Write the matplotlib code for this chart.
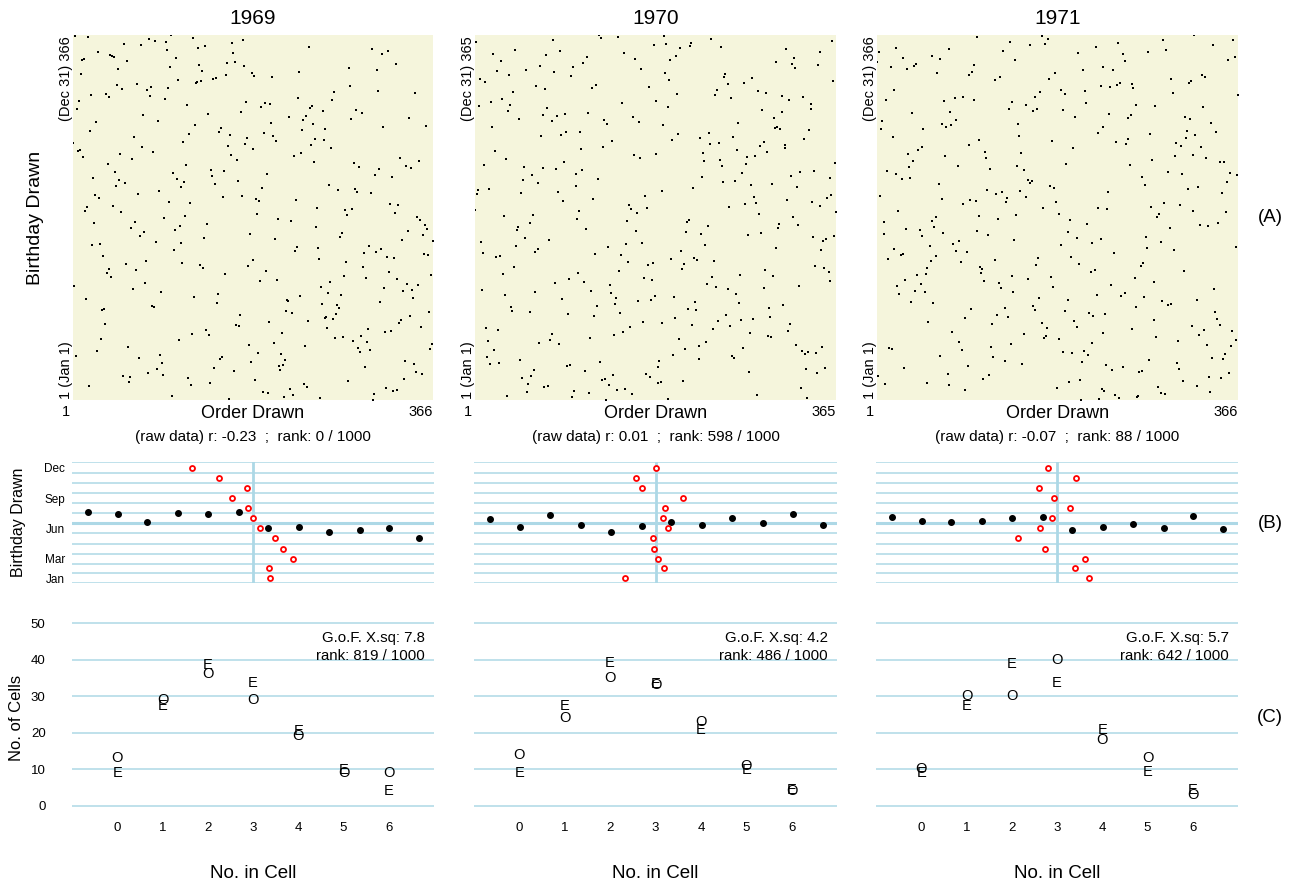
"""Draft lottery 1969-1971: raw scatter, monthly / group means, cell-count goodness of fit."""

import matplotlib
import matplotlib.pyplot as plt
import numpy as np

matplotlib.use("Agg")
plt.rcParams["font.family"] = ["Liberation Sans", "DejaVu Sans"]

W, H = 1296, 885

YEARS = ["1969", "1970", "1971"]
N_DAYS = [366, 365, 366]
R_TEXT = ["-0.23", "0.01", "-0.07"]
R_RANK = [0, 598, 88]
GOF = ["7.8", "4.2", "5.7"]
GOF_RANK = [819, 486, 642]

# 1969: number drawn for each birthday, one list per month (Jan .. Dec)
draft_1969 = [
    [305, 159, 251, 215, 101, 224, 306, 199, 194, 325, 329, 221, 318, 238, 17, 121,
     235, 140, 58, 280, 186, 337, 118, 59, 52, 92, 355, 77, 349, 164, 211],
    [86, 144, 297, 210, 214, 347, 91, 181, 338, 216, 150, 68, 152, 4, 89, 212, 189,
     292, 25, 302, 363, 290, 57, 236, 179, 365, 205, 299, 285],
    [108, 29, 267, 275, 293, 139, 122, 213, 317, 323, 136, 300, 259, 354, 169, 166,
     33, 332, 200, 239, 334, 265, 256, 258, 343, 170, 268, 223, 362, 217, 30],
    [32, 271, 83, 81, 269, 253, 147, 312, 219, 218, 14, 346, 124, 231, 273, 148, 260,
     90, 336, 345, 62, 316, 252, 2, 351, 340, 74, 262, 191, 208],
    [330, 298, 40, 276, 364, 155, 35, 321, 197, 65, 37, 133, 295, 178, 130, 55, 112,
     278, 75, 183, 250, 326, 319, 31, 361, 357, 296, 308, 226, 103, 313],
    [249, 228, 301, 20, 28, 110, 85, 366, 335, 206, 134, 272, 69, 356, 180, 274, 73,
     341, 104, 360, 60, 247, 109, 358, 137, 22, 64, 222, 353, 209],
    [93, 350, 115, 279, 188, 327, 50, 13, 277, 284, 248, 15, 42, 331, 322, 120, 98,
     190, 227, 187, 27, 153, 172, 23, 67, 303, 289, 88, 270, 287, 193],
    [111, 45, 261, 145, 54, 114, 168, 48, 106, 21, 324, 142, 307, 198, 102, 44, 154,
     141, 311, 344, 291, 339, 116, 36, 286, 245, 352, 167, 61, 333, 11],
    [225, 161, 49, 232, 82, 6, 8, 184, 263, 71, 158, 242, 175, 1, 113, 207, 255, 246,
     177, 63, 204, 160, 119, 195, 149, 18, 233, 257, 151, 315],
    [359, 125, 244, 202, 24, 87, 234, 283, 342, 220, 237, 72, 138, 294, 171, 254, 288,
     5, 241, 192, 243, 117, 201, 196, 176, 7, 264, 94, 229, 38, 79],
    [19, 34, 348, 266, 310, 76, 51, 97, 80, 282, 46, 66, 126, 127, 131, 107, 143, 146,
     203, 185, 156, 9, 182, 230, 132, 309, 47, 281, 99, 174],
    [129, 328, 157, 165, 56, 10, 12, 105, 43, 41, 39, 314, 163, 26, 320, 96, 304, 128,
     240, 135, 70, 53, 162, 95, 84, 173, 78, 123, 16, 3, 100],
]

# 1970 / 1971: (order drawn, birthday day-of-year)
pts_1970 = [
    (2, 358), (80, 360), (126, 365), (128, 362), (145, 363), (181, 355), (41, 350), (87, 349),
    (19, 346), (73, 345), (151, 347), (114, 343), (27, 339), (110, 337), (162, 341), (67, 334),
    (100, 333), (23, 329), (52, 330), (81, 328), (168, 331), (35, 325), (98, 324), (6, 321),
    (11, 318), (63, 314), (72, 311), (123, 315), (119, 312), (176, 313), (39, 308), (28, 301),
    (17, 298), (5, 294), (36, 295), (74, 292), (34, 289), (149, 297), (70, 285), (84, 284),
    (92, 286), (115, 287), (45, 281), (79, 279), (131, 280), (134, 276), (160, 283), (166, 278),
    (18, 273), (93, 268), (88, 265), (68, 264), (107, 268), (139, 259), (130, 253), (21, 249),
    (108, 251), (183, 246), (161, 245), (167, 242), (32, 241), (10, 235), (91, 238), (50, 233),
    (70, 232), (83, 231), (109, 230), (103, 226), (58, 225), (49, 220), (65, 217), (125, 221),
    (4, 210), (15, 211), (3, 206), (47, 207), (85, 208), (103, 214), (90, 199), (120, 201),
    (172, 204), (1, 190), (30, 184), (59, 185), (106, 189), (156, 195), (158, 191), (164, 187),
    (174, 192),
    (192, 364), (194, 356), (219, 357), (218, 354), (239, 361), (208, 352), (249, 353), (361, 359),
    (315, 351), (349, 348), (204, 344), (198, 340), (323, 342), (305, 338), (321, 336), (324, 332),
    (347, 335), (193, 327), (253, 326), (252, 323), (197, 320), (280, 322), (272, 317), (256, 316),
    (362, 319), (245, 310), (286, 309), (294, 307), (243, 305), (205, 306), (311, 304), (259, 302),
    (318, 300), (332, 303), (184, 299), (340, 296), (340, 291), (196, 293), (290, 290), (311, 288),
    (302, 282), (266, 277), (191, 275), (303, 272), (306, 273), (309, 271), (206, 266), (237, 267),
    (338, 270), (228, 262), (261, 263), (200, 260), (238, 256), (247, 257), (292, 258), (288, 254),
    (333, 261), (314, 255), (314, 252), (265, 250), (295, 248), (231, 247), (275, 243), (283, 244),
    (232, 239), (248, 240), (250, 234), (274, 236), (364, 237), (270, 227), (329, 228), (343, 229),
    (230, 223), (320, 224), (359, 222), (251, 218), (263, 219), (279, 215), (300, 216), (326, 213),
    (190, 209), (221, 212), (282, 203), (316, 200), (360, 205), (356, 202), (341, 198), (349, 194),
    (273, 196), (284, 197), (257, 193), (287, 186), (322, 183), (365, 188),
    (104, 182), (56, 178), (44, 174), (43, 171), (154, 180), (163, 170), (113, 172), (7, 159),
    (76, 161), (51, 163), (42, 155), (65, 152), (61, 149), (153, 157), (169, 158), (135, 154),
    (9, 148), (22, 144), (26, 145), (122, 147), (148, 146), (40, 134), (155, 139), (175, 136),
    (180, 138), (146, 130), (29, 127), (105, 128), (96, 122), (82, 118), (111, 119), (171, 123),
    (179, 121), (8, 111), (31, 106), (62, 109), (118, 110), (137, 116), (138, 108), (182, 105),
    (89, 102), (143, 103), (165, 100), (178, 101), (142, 97), (37, 94), (38, 90), (56, 89),
    (95, 87), (124, 95), (121, 85), (147, 88), (170, 79), (157, 74), (12, 73), (24, 71),
    (150, 69), (141, 66), (79, 67), (77, 61), (66, 58), (86, 57), (117, 63), (14, 60),
    (20, 51), (13, 44), (16, 37), (25, 38), (46, 41), (94, 35), (97, 36), (127, 39),
    (60, 31), (112, 30), (140, 26), (173, 27), (177, 24), (48, 23), (57, 25), (129, 21),
    (132, 22), (54, 17), (136, 16), (71, 14), (75, 15), (53, 9), (101, 10), (144, 11),
    (152, 12), (116, 8), (159, 7), (99, 4), (33, 5), (133, 1),
    (215, 179), (217, 181), (236, 175), (214, 169), (229, 167), (276, 166), (289, 168), (308, 177),
    (307, 173), (327, 176), (342, 164), (352, 160), (355, 162), (363, 165), (233, 156), (304, 153),
    (350, 151), (209, 150), (199, 142), (222, 143), (225, 141), (242, 140), (212, 137), (210, 132),
    (344, 135), (353, 133), (358, 129), (359, 120), (268, 126), (293, 131), (301, 125), (240, 124),
    (235, 117), (244, 114), (256, 112), (292, 113), (328, 115), (264, 107), (202, 104), (223, 99),
    (267, 98), (216, 92), (224, 91), (297, 93), (312, 96), (254, 86), (246, 80), (269, 81),
    (281, 82), (258, 75), (298, 84), (319, 77), (317, 70), (190, 78), (203, 83), (220, 76),
    (241, 72), (207, 62), (234, 59), (278, 68), (296, 65), (299, 64), (213, 52), (227, 55),
    (271, 53), (325, 56), (331, 50), (334, 47), (337, 49), (345, 48), (351, 54), (201, 46),
    (227, 42), (260, 45), (262, 43), (187, 40), (186, 34), (186, 18), (189, 19), (211, 20),
    (277, 29), (335, 32), (346, 28), (354, 33), (330, 13), (285, 6), (336, 3), (196, 2),
]

pts_1971 = [
    (102, 364), (135, 359), (168, 365), (174, 362), (171, 357), (156, 356), (20, 353), (74, 352),
    (128, 350), (3, 349), (57, 345), (27, 343), (65, 342), (141, 341), (1, 339), (40, 337),
    (38, 335), (15, 334), (31, 332), (99, 336), (62, 328), (94, 326), (97, 329), (125, 324),
    (120, 321), (181, 328), (175, 322), (18, 311), (187, 311), (166, 309), (161, 304), (10, 301),
    (69, 300), (80, 303), (88, 304), (99, 301), (138, 299), (152, 296), (134, 292), (163, 292),
    (159, 290), (36, 288), (75, 289), (6, 280), (5, 272), (81, 281), (67, 277), (71, 274),
    (76, 276), (48, 272), (144, 277), (17, 264), (145, 265), (104, 261), (94, 256), (178, 260),
    (46, 254), (42, 251), (32, 247), (70, 245), (110, 249), (111, 243), (147, 248), (37, 240),
    (33, 234), (83, 235), (115, 232), (143, 235), (150, 231), (11, 230), (20, 227), (26, 222),
    (34, 223), (154, 221), (158, 220), (156, 218), (64, 217), (176, 215), (180, 213), (112, 211),
    (146, 210), (121, 207), (127, 209), (4, 205), (152, 204), (132, 203), (131, 199), (67, 202),
    (95, 201), (101, 200), (88, 197), (182, 199), (22, 190), (169, 193), (185, 187), (61, 184),
    (104, 185), (142, 186),
    (322, 366), (290, 361), (361, 361), (245, 358), (222, 354), (341, 356), (204, 348), (275, 349),
    (293, 351), (250, 347), (356, 341), (363, 344), (252, 340), (209, 331), (230, 334), (240, 331),
    (330, 326), (333, 324), (298, 322), (316, 318), (318, 320), (227, 315), (237, 314), (244, 316),
    (247, 318), (259, 317), (260, 313), (191, 307), (211, 310), (300, 308), (366, 306), (212, 298),
    (263, 296), (282, 295), (331, 294), (189, 291), (201, 284), (236, 287), (255, 283), (258, 286),
    (312, 284), (317, 282), (339, 278), (229, 274), (224, 268), (277, 267), (314, 270), (344, 269),
    (323, 266), (313, 263), (255, 262), (253, 257), (243, 259), (303, 258), (308, 255), (329, 254),
    (199, 253), (302, 245), (321, 246), (334, 243), (348, 239), (352, 239), (279, 241), (192, 237),
    (257, 236), (295, 229), (309, 227), (358, 228), (365, 226), (269, 224), (272, 216), (355, 219),
    (315, 212), (326, 214), (350, 208), (235, 209), (224, 193), (234, 192), (278, 194), (291, 198),
    (307, 196), (320, 190), (354, 189), (286, 187), (284, 184),
    (8, 179), (57, 180), (59, 174), (30, 172), (44, 171), (47, 165), (68, 168), (102, 170),
    (113, 166), (123, 182), (8, 167), (18, 152), (12, 142), (25, 146), (27, 147), (55, 155),
    (78, 157), (84, 160), (81, 150), (92, 149), (140, 161), (187, 156), (61, 145), (56, 140),
    (86, 139), (120, 141), (164, 143), (162, 136), (52, 133), (105, 134), (107, 132), (106, 128),
    (41, 126), (51, 127), (29, 121), (21, 115), (45, 117), (39, 110), (50, 109), (23, 107),
    (109, 120), (124, 118), (126, 113), (137, 125), (154, 122), (177, 124), (179, 114), (139, 109),
    (165, 103), (35, 99), (58, 98), (159, 95), (161, 91), (96, 92), (130, 93), (122, 86),
    (133, 84), (90, 83), (53, 79), (117, 77), (168, 78), (173, 73), (77, 69), (150, 67),
    (170, 63), (172, 65), (185, 62), (84, 59), (13, 53), (16, 52), (87, 51), (136, 57),
    (116, 54), (65, 45), (118, 44), (130, 40), (148, 37), (93, 35), (28, 33), (2, 25),
    (73, 27), (114, 26), (108, 22), (9, 17), (52, 18), (74, 16), (90, 11), (183, 13),
    (196, 181), (213, 177), (194, 169), (203, 163), (227, 162), (218, 158), (273, 164), (288, 159),
    (297, 173), (328, 176), (336, 175), (346, 178), (274, 153), (301, 151), (364, 154), (241, 148),
    (197, 144), (205, 137), (217, 129), (221, 131), (270, 138), (268, 135), (311, 130), (262, 123),
    (281, 119), (238, 116), (223, 106), (248, 105), (252, 108), (271, 104), (194, 101), (263, 94),
    (289, 100), (295, 96), (298, 97), (325, 101), (342, 112), (191, 90), (215, 88), (219, 85),
    (232, 87), (200, 80), (203, 74), (281, 81), (343, 89), (345, 82), (348, 76), (319, 75),
    (332, 71), (327, 66), (360, 70), (364, 61), (229, 68), (259, 72), (283, 64), (305, 60),
    (218, 58), (189, 49), (198, 48), (210, 50), (214, 46), (208, 39), (233, 36), (239, 31),
    (250, 34), (266, 29), (269, 30), (276, 41), (304, 38), (306, 32), (335, 56), (340, 43),
    (351, 42), (353, 47), (359, 55), (357, 28), (349, 23), (337, 24), (310, 20), (325, 15),
    (195, 19), (206, 21), (228, 12), (231, 10), (242, 6), (246, 3), (264, 4), (265, 5),
    (285, 14), (288, 8), (292, 7), (338, 9), (207, 1), (225, 2),
]

# panel B: month bands (day of year), monthly mean of order drawn (red),
# mean birthday of each block of ~30 draws (black)
month_edges = [0, 31, 59, 90, 120, 151, 181, 212, 243, 273, 304, 334, 366]
month_mid = [16, 45, 75, 105, 136, 166, 197, 228, 258, 289, 319, 350]
month_ticks = {"Jan": 16, "Mar": 75, "Jun": 166, "Sep": 258, "Dec": 350}
month_means = {
    "1969": [201, 200, 224, 214, 206, 191, 183, 178, 162, 177, 149, 122],
    "1970": [152, 192, 186, 181, 180, 196, 191, 193, 211, 169, 163, 184],
    "1971": [216, 202, 212, 171, 144, 166, 178, 197, 180, 165, 203, 174],
}
block_centres = [17, 47, 77, 108, 138, 169, 199, 230, 260, 291, 321, 351]
block_means = {
    "1969": [217, 211, 186, 214, 211, 216, 168, 169, 155, 161, 167, 138],
    "1970": [193, 169, 207, 176, 155, 173, 184, 176, 199, 181, 211, 176],
    "1971": [200, 187, 185, 188, 198, 201, 160, 170, 179, 167, 204, 163],
}

# panel C: observed / expected number of cells holding k points
cell_k = [0, 1, 2, 3, 4, 5, 6]
observed = {
    "1969": [13, 29, 36, 29, 19, 9, 9],
    "1970": [14, 24, 35, 33, 23, 11, 4],
    "1971": [10, 30, 30, 40, 18, 13, 3],
}
expected = {
    "1969": [9.0, 27.3, 38.5, 33.6, 20.5, 9.8, 4.1],
    "1970": [9.0, 27.3, 39.0, 33.3, 20.8, 9.8, 4.4],
    "1971": [9.0, 27.3, 38.8, 33.6, 20.8, 9.3, 4.4],
}

BEIGE = "#F5F5DC"
BLUE = "#ADD8E6"

# panel boxes in pixels: (left, right)
A_X = [(73, 433), (475, 836), (877, 1238)]
BC_X = [(72, 434), (474, 837), (876, 1238)]


def box(x0, x1, y_top, y_bot):
    return [x0 / W, 1 - y_bot / H, (x1 - x0) / W, (y_bot - y_top) / H]


def ftext(fig, x, y, s, **kw):
    fig.text(x / W, 1 - y / H, s, **kw)


def clean(ax):
    ax.set_xticks([])
    ax.set_yticks([])
    for sp in ax.spines.values():
        sp.set_visible(False)


fig = plt.figure(figsize=(W / 100, H / 100), dpi=100)

for i, year in enumerate(YEARS):
    n = N_DAYS[i]
    if year == "1969":
        ys, xs = [], []
        day = 1
        for month in draft_1969:
            for num in month:
                xs.append(num)
                ys.append(day)
                day += 1
    else:
        pts = pts_1970 if year == "1970" else pts_1971
        xs = [p[0] for p in pts]
        ys = [p[1] for p in pts]

    # ---- panel A: raw scatter
    a0, a1 = A_X[i]
    ax = fig.add_axes(box(a0, a1, 35.3, 399.7))
    ax.set_facecolor(BEIGE)
    ax.scatter(xs, ys, s=4.5, marker="s", c="black", linewidths=0)
    ax.set_xlim(1, n)
    ax.set_ylim(1, n)
    clean(ax)
    xc = (a0 + a1) / 2
    ftext(fig, xc, 18, year, ha="center", va="center", fontsize=15)
    ftext(fig, xc, 413, "Order Drawn", ha="center", va="center", fontsize=13)
    ftext(fig, a0 - 3, 412, "1", ha="right", va="center", fontsize=10.5)
    ftext(fig, a1, 412, str(n), ha="right", va="center", fontsize=10.5)
    ftext(fig, a0 - 7, 399, "1 (Jan 1)", ha="center", va="bottom",
          rotation=90, fontsize=10.5)
    ftext(fig, a0 - 7, 36, f"(Dec 31) {n}", ha="center", va="top",
          rotation=90, fontsize=10.5)
    ftext(fig, xc, 437, f"(raw data) r: {R_TEXT[i]}  ;  rank: {R_RANK[i]} / 1000",
          ha="center", va="center", fontsize=11)

    # ---- panel B: monthly / block means
    b0, b1 = BC_X[i]
    bx = fig.add_axes(box(b0, b1, 462.3, 583.3))
    bx.set_xlim(1, n)
    bx.set_ylim(0, 366)
    clean(bx)
    bx.hlines(month_edges, 1, n, color=BLUE, lw=1.1, zorder=1)
    bx.axhline(183, color=BLUE, lw=2.2, zorder=1)
    bx.axvline((n + 1) / 2, color=BLUE, lw=2.0, zorder=1)
    bx.plot(block_centres, block_means[year], "o", color="black", ms=4, zorder=3)
    bx.plot(month_means[year], month_mid, "o", ms=3.6, mfc="white", mec="red",
            mew=1.3, zorder=3)
    if i == 0:
        bx.set_yticks(list(month_ticks.values()))
        bx.set_yticklabels(list(month_ticks.keys()), fontsize=8.5)
        bx.tick_params(axis="y", length=0, pad=5)

    # ---- panel C: observed vs expected cell counts
    cx = fig.add_axes(box(b0, b1, 615.7, 813.3))
    cx.set_xlim(-1, 7)
    cx.set_ylim(-2, 52)
    for sp in cx.spines.values():
        sp.set_visible(False)
    cx.hlines([0, 10, 20, 30, 40, 50], -1, 7, color=BLUE, lw=1.1, zorder=1)
    for k, o, e in zip(cell_k, observed[year], expected[year]):
        cx.text(k, o, "O", ha="center", va="center", fontsize=10.5)
        cx.text(k, e, "E", ha="center", va="center", fontsize=10.5)
    cx.set_xticks(cell_k)
    cx.set_xticklabels([str(k) for k in cell_k], fontsize=9.5)
    cx.tick_params(axis="x", length=0, pad=6)
    if i == 0:
        cx.set_yticks([0, 10, 20, 30, 40, 50])
        cx.set_yticklabels(["0", "10", "20", "30", "40", "50"], fontsize=9.5)
        cx.tick_params(axis="y", length=0, pad=19)
    else:
        cx.set_yticks([])
    cx.text(0.975, 0.842, f"G.o.F. X.sq: {GOF[i]}\nrank: {GOF_RANK[i]} / 1000",
            transform=cx.transAxes, ha="right", va="center", fontsize=10.8,
            linespacing=1.35)
    ftext(fig, xc, 873, "No. in Cell", ha="center", va="center", fontsize=13.5)

ftext(fig, 35, 218, "Birthday Drawn", ha="center", va="center", rotation=90, fontsize=14)
ftext(fig, 19, 522, "Birthday Drawn", ha="center", va="center", rotation=90, fontsize=11.5)
ftext(fig, 17, 718, "No. of Cells", ha="center", va="center", rotation=90, fontsize=12)
for label, y in (("(A)", 218), ("(B)", 523), ("(C)", 718)):
    ftext(fig, 1270, y, label, ha="center", va="center", fontsize=13.5)

fig.savefig("out.png", dpi=100)
